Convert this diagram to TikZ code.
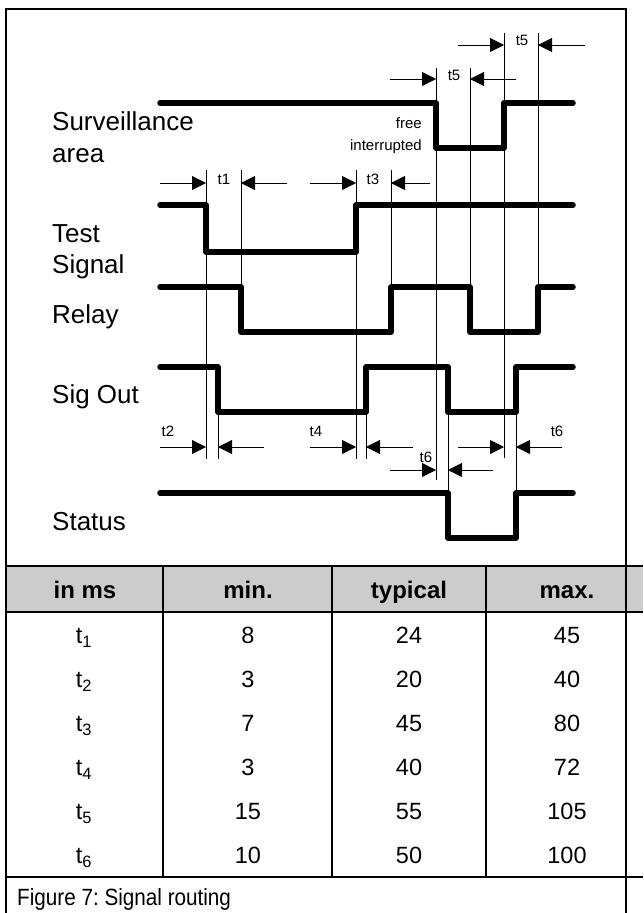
\documentclass[tikz,border=0pt]{standalone}
\usepackage{fontspec}
\setmainfont{Liberation Sans}
\newfontfamily\capfont[FakeStretch=0.88]{Liberation Sans}
\usetikzlibrary{arrows.meta}

\tikzset{
  sig/.style={line width=5.5pt, line cap=round, line join=round},
  guide/.style={line width=0.8pt},
  dim/.style={line width=0.9pt, -{Triangle[length=14pt,width=14pt]}},
  frame/.style={line width=2.5pt},
  lbl/.style={font=\fontsize{26}{30}\selectfont, anchor=base west, inner sep=0pt},
  tlbl/.style={font=\fontsize{15}{18}\selectfont, inner sep=0pt},
  cell/.style={font=\fontsize{23.5}{28}\selectfont, anchor=base, inner sep=0pt},
  head/.style={font=\fontsize{24}{28}\selectfont\bfseries, anchor=base, inner sep=0pt},
}

\begin{document}
\begin{tikzpicture}[x=1pt,y=-1pt]
    \useasboundingbox (0,0) rectangle (643,913);
    % Header shading
    \fill[black!20] (6,566) rectangle (643,612);
    % Guide lines
    \draw[guide] (206,170) -- (206,459);
    \draw[guide] (218,412) -- (218,459);
    \draw[guide] (241,170) -- (241,332);
    \draw[guide] (356,170) -- (356,459);
    \draw[guide] (366,412) -- (366,459);
    \draw[guide] (391,170) -- (391,332);
    \draw[guide] (436,68) -- (436,480);
    \draw[guide] (448,412) -- (448,493);
    \draw[guide] (470,68) -- (470,332);
    \draw[guide] (504,33) -- (504,458);
    \draw[guide] (516,412) -- (516,493);
    \draw[guide] (538,33) -- (538,332);
    % Signals
    \draw[sig] (160,103) -- (436,103) -- (436,148) -- (504,148) -- (504,103) -- (573,103);
    \draw[sig] (160,205) -- (206,205) -- (206,252) -- (356,252) -- (356,205) -- (573,205);
    \draw[sig] (160,287) -- (241,287) -- (241,332) -- (391,332) -- (391,287) -- (470,287)
        -- (470,332) -- (538,332) -- (538,287) -- (573,287);
    \draw[sig] (160,367) -- (218,367) -- (218,412) -- (366,412) -- (366,367) -- (448,367)
        -- (448,412) -- (516,412) -- (516,367) -- (573,367);
    \draw[sig] (160,493) -- (448,493) -- (448,538) -- (516,538) -- (516,493) -- (573,493);
    % Signal names
    \node[lbl] (surv) at (52,130) {Surveillance};
    \node[lbl] (area) at (52,162) {area};
    \node[lbl] (test) at (52,242) {Test};
    \node[lbl] (sgnl) at (52,273) {Signal};
    \node[lbl] (rel) at (52,323) {Relay};
    \node[lbl] (sout) at (52,403) {Sig Out};
    \node[lbl] (stat) at (52,530) {Status};
    \node[tlbl, anchor=base east] (free) at (422,128) {free};
    \node[tlbl, anchor=base east] (intr) at (422,150) {interrupted};
    % Timing arrows
    \draw[dim] (458,45) -- (504,45);
    \draw[dim] (585,45) -- (538,45);
    \node[tlbl] (t5a) at (522,40) {t5};
    \draw[dim] (390,79) -- (436,79);
    \draw[dim] (516,79) -- (470,79);
    \node[tlbl] (t5b) at (454,75) {t5};
    \draw[dim] (160,183) -- (206,183);
    \draw[dim] (287,183) -- (241,183);
    \node[tlbl] (t1) at (224,179) {t1};
    \draw[dim] (310,183) -- (356,183);
    \draw[dim] (430,183) -- (391,183);
    \node[tlbl] (t3) at (373,179) {t3};
    \draw[dim] (160,447) -- (206,447);
    \draw[dim] (264,447) -- (218,447);
    \node[tlbl] (t2) at (168,431) {t2};
    \draw[dim] (310,447) -- (356,447);
    \draw[dim] (413,447) -- (366,447);
    \node[tlbl] (t4) at (316,431) {t4};
    \draw[dim] (458,447) -- (504,447);
    \draw[dim] (562,447) -- (516,447);
    \node[tlbl] (t6a) at (557,431) {t6};
    \draw[dim] (390,470) -- (436,470);
    \draw[dim] (493,470) -- (448,470);
    \node[tlbl] (t6b) at (426,457) {t6};
    % Frame and table
    \draw[frame] (6,913) -- (6,9) -- (626,9) -- (626,913);
    \draw[frame] (6,566) -- (643,566);
    \draw[frame] (6,612) -- (643,612);
    \draw[frame] (6,877) -- (643,877);
    \draw[frame] (163,566) -- (163,877);
    \draw[frame] (332,566) -- (332,877);
    \draw[frame] (486,566) -- (486,877);
    % Header
    \node[head] (hms) at (85,598) {in ms};
    \node[head] (hmin) at (248,598) {min.};
    \node[head] (htyp) at (409,598) {typical};
    \node[head] (hmax) at (567,598) {max.};
    % Rows
    \foreach \i/\mn/\ty/\mx in {1/8/24/45, 2/3/20/40, 3/7/45/80, 4/3/40/72, 5/15/55/105, 6/10/50/100}{
        \node[cell] (r\i a) at (84,643.5+44*\i-44) {t\textsubscript{\i}};
        \node[cell] (r\i b) at (248,643.5+44*\i-44) {\mn};
        \node[cell] (r\i c) at (409,643.5+44*\i-44) {\ty};
        \node[cell] (r\i d) at (567,643.5+44*\i-44) {\mx};
    }
    % Caption
    \node[cell, anchor=base west, font=\fontsize{23.5}{28}\capfont\frenchspacing] (cap) at (17,905) {Figure 7: Signal routing};
\end{tikzpicture}
\end{document}
